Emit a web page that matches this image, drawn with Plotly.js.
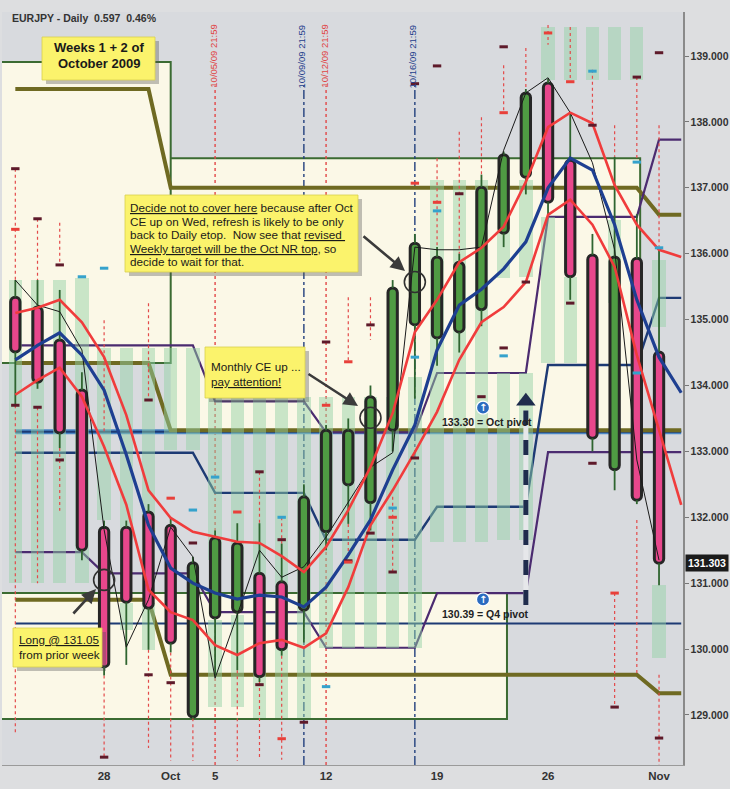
<!DOCTYPE html>
<html>
<head>
<meta charset="utf-8">
<script src="https://cdn.plot.ly/plotly-3.0.1.min.js"></script>
<style>
html,body{margin:0;padding:0;background:#ffffff;}
#chart{width:730px;height:789px;}
</style>
</head>
<body>
<div id="chart"></div>
<script>
// EURJPY daily, 22 Sep – 2 Nov 2009. x = trading-day index (0 = Mon 28 Sep).
const days = [-4,-3,-2,-1,0,1,2,3,4,5,6,7,8,9,10,11,12,13,14,15,16,17,18,19,20,21,22,23,24,25];
const levelDays = [-4,-3,-2,-1,0,1,2,3,4,5,6,7,8,9,10,11,12,13,14,15,16,17,18,19,20,21,22,23,24,25,26];

const tickDays = [0,3,5,10,15,20,25];
const tickText = ['28','Oct','5','12','19','26','Nov'];
const priceTicks = [129,130,131,132,133,134,135,136,137,138,139];

// candles
const openPx  = [135.34,135.19,134.69,133.93,131.85,131.85,132.08,131.88,128.97,130.47,130.56,131.15,131.02,130.59,131.78,132.49,132.22,133.32,134.92,134.72,134.81,135.15,136.31,137.16,138.59,137.42,135.98,132.72,135.93,134.51];
const closePx = [134.51,134.05,133.28,131.50,129.73,130.71,130.62,130.09,131.31,131.69,131.61,129.58,129.99,132.31,133.32,133.32,133.83,135.48,136.16,135.95,135.87,137.01,137.50,138.44,136.78,135.65,133.20,135.95,132.26,131.303];
const highPx  = [135.60,135.60,135.45,134.20,131.95,131.95,132.20,132.00,131.40,131.80,131.91,131.91,131.60,132.50,133.40,133.50,134.00,135.60,136.30,136.10,136.00,137.20,137.55,138.50,138.65,138.14,136.30,137.47,136.60,136.10];
const lowPx   = [133.70,133.95,133.05,131.35,129.60,129.76,129.99,129.95,128.95,129.60,129.68,129.50,129.90,130.10,131.50,131.90,131.80,133.00,133.80,134.30,134.50,134.90,136.10,136.90,136.60,135.30,133.00,132.41,132.20,130.97];

// envelope and average (plotted one session ahead of the last bar)
const bandUpper = [135.10,135.18,135.30,134.96,134.43,133.55,132.41,131.99,131.78,131.70,131.63,131.61,131.41,131.17,131.55,132.11,132.76,133.58,134.81,135.30,135.87,136.09,136.41,137.09,137.92,138.14,137.98,137.04,136.44,136.06,135.95];
const bandMid   = [134.39,134.61,134.80,134.46,133.93,132.95,131.88,131.23,131.00,130.85,130.76,130.82,130.79,130.64,130.94,131.43,131.96,132.72,133.40,134.54,135.22,135.46,135.77,136.18,137.00,137.45,137.27,136.44,135.30,134.43,133.89];
const bandLower = [133.86,134.08,134.27,133.83,133.07,132.19,130.90,130.56,130.44,130.06,129.91,130.09,130.14,130.02,130.24,130.94,131.88,132.41,132.99,133.60,134.39,134.96,135.19,135.57,136.59,136.82,136.44,135.80,134.46,133.32,132.19];
const swingLine = [135.60,135.22,135.12,134.54,131.81,130.03,130.75,131.85,131.40,129.56,130.52,131.50,131.09,131.25,131.70,132.22,132.76,132.98,136.10,136.06,136.06,136.10,137.57,138.44,138.67,138.14,137.38,136.06,132.87,131.35];

// stepped pivot levels
const oliveHigh = [138.50,138.50,138.50,138.50,138.50,138.50,138.50,137.00,137.00,137.00,137.00,137.00,137.00,137.00,137.00,137.00,137.00,137.00,137.00,137.00,137.00,137.00,137.00,137.00,137.00,137.00,137.00,137.00,137.00,136.59,136.59];
const oliveMid  = [134.34,134.34,134.34,134.34,134.34,134.34,134.34,133.32,133.32,133.32,133.32,133.32,133.32,133.32,133.32,133.32,133.32,133.32,133.32,133.32,133.32,133.32,133.32,133.32,133.32,133.32,133.32,133.32,133.32,133.32,133.32];
const oliveLow  = [130.75,130.75,130.75,130.75,130.75,130.75,130.75,129.61,129.61,129.61,129.61,129.61,129.61,129.61,129.61,129.61,129.61,129.61,129.61,129.61,129.61,129.61,129.61,129.61,129.61,129.61,129.61,129.61,129.61,129.33,129.33];
const purpleHigh = [134.61,134.61,134.61,134.61,134.61,134.61,134.61,134.61,134.61,133.76,133.76,133.76,133.76,133.76,133.29,133.29,133.29,133.29,133.29,134.19,134.19,134.19,134.19,134.19,136.56,136.56,136.56,136.56,136.56,137.73,137.73];
const purpleLow  = [131.47,131.47,131.47,131.47,131.15,131.15,131.15,131.15,131.15,130.56,130.56,130.56,130.56,130.56,130.02,130.02,130.02,130.02,130.02,130.85,130.85,130.85,130.85,130.85,132.99,132.99,132.99,132.99,132.99,132.99,132.99];
const navyWeekly = [132.98,132.98,132.98,132.98,132.98,132.98,132.98,132.98,132.98,132.37,132.37,132.37,132.37,132.37,131.66,131.66,131.66,131.66,131.66,132.16,132.16,132.16,132.16,132.16,134.31,134.31,134.31,134.31,134.31,135.33,135.33];
const octPivot = 133.30;
const q4Pivot = 130.39;

// shaded range boxes
const zoneX0  = [-4.6, -4.6, 3];
const zoneX1  = [3, 18.15, 24.15];
const zoneTop = [138.91, 130.85, 137.45];
const zoneBot = [134.34, 128.94, 133.32];

// light value stripes
const stripeDay = [-4,-3,-2,-1,0,1,1,2,2,3,4,5,5,6,6,7,8,9,10,11,12,13,14,15,16,17,18,18,19,19,20,20,21,21,22,23,23,24,25,25];
const stripeHi  = [135.60,135.60,135.60,135.63,134.57,134.57,130.70,134.57,130.70,134.57,134.57,133.83,130.44,133.83,130.52,133.83,133.83,133.83,133.83,133.83,133.83,133.83,134.13,137.12,137.12,137.12,137.12,134.19,137.12,134.19,139.44,136.56,139.44,135.65,139.44,139.44,136.51,139.44,135.90,130.97];
const stripeLo  = [131.00,131.00,131.00,131.00,131.96,131.66,130.29,131.66,129.99,133.02,133.02,131.35,129.12,131.35,129.12,128.95,128.95,128.95,130.02,130.02,130.02,130.02,130.02,131.63,131.63,131.63,135.63,131.66,135.65,131.66,138.64,134.34,138.64,134.34,138.64,138.64,135.25,138.64,134.89,129.87];

// dotted projection runs
const dotDay = [-4,-4,-3,-3,-2,-2,0,0,2,2,3,4,6,7,7,8,8,11,11,12,13,15,16,17,18,19,20,21,22,23,23,24,24,25,25];
const dotHi  = [137.29,133.70,136.53,133.67,136.47,133.05,134.99,129.60,135.25,129.99,129.95,128.95,129.68,132.69,129.50,132.00,129.90,135.34,131.90,135.34,132.31,137.45,137.85,138.07,138.86,139.12,139.47,139.44,138.79,137.95,130.85,138.68,131.96,137.95,129.61];
const dotLo  = [135.60,128.73,135.60,131.00,135.83,132.10,133.30,128.36,133.78,128.50,128.30,128.30,128.30,131.91,128.35,131.60,128.32,134.36,131.32,134.69,131.17,136.10,136.00,137.20,138.14,138.51,139.17,138.61,137.88,137.47,129.12,137.39,129.61,136.09,128.24];

// small level ticks
const darkDay = [-4,-3,-2,-4,-3,-2,2,0,2,3,4,7,8,7,9,11,12,13,10,12,14,15,16,14,18,18,19,21,22,22,17,24,25,23,25];
const darkPx  = [137.29,136.53,135.83,133.70,133.67,132.87,133.78,128.36,129.61,129.49,131.61,132.69,131.66,129.46,128.89,131.34,131.76,131.17,134.66,134.92,138.58,138.85,136.91,132.90,139.14,134.57,135.57,135.25,137.95,132.82,133.83,138.68,139.05,129.12,128.65];
const redDay = [-4,3,6,8,10,11,13,14,15,18,20,21,23,11];
const redPx  = [136.37,132.29,132.08,128.64,133.70,134.36,132.00,137.07,136.78,138.14,139.35,138.61,130.85,131.32];
const cyanDay = [-1,0,4,5,8,10,13,15,14,18,22,24,25,24];
const cyanPx  = [135.65,135.78,132.11,132.61,132.00,129.43,132.14,136.65,134.43,134.45,138.77,137.39,136.09,134.19];

// session markers
const sessionDay = [5, 9, 10, 14];
const sessionLabel = ['10/05/09 21:59', '10/09/09 21:59', '10/12/09 21:59', '10/16/09 21:59'];
const sessionKind = ['daily', 'weekly', 'daily', 'weekly'];

// circled entries and the projected move
const circleDay = [0, 12, 14];
const circlePx = [131.05, 133.51, 135.57];
const longEntry = 131.05;
const moveDay = [19, 19];
const movePx = [130.67, 133.62];
const moveHead = 133.76;

// ---------------------------------------------------------------
const FONT = 'Liberation Sans, Arial, sans-serif';
const ML = 2, MR = 47, MT = 12, MB = 24, W = 730, H = 789;
const PW = W - ML - MR, PH = H - MT - MB;
const px = v => (v - ML) / PW;
const py = v => 1 - (v - MT) / PH;

const C = {
  plot: '#d8dade', cream: '#fbf8e7', boxLine: '#3b6b32', olive: '#6f6a22',
  purple: '#4b2b70', navy: '#1d3a74', steel: '#4a86c6', red: '#f03c3c',
  blue: '#1e3f91', up: '#4f9b43', down: '#e8478c', edge: '#262626',
  stripe: 'rgba(146,210,166,0.48)', note: '#fbf36c'
};

const pathOf = (xs, ys) => 'M' + xs.map((x, i) => x + ',' + ys[i]).join('L');

const shapes = [];
// cream range boxes
zoneX0.forEach((x0, i) => {
  shapes.push({type: 'rect', xref: 'x', yref: 'y', x0: x0, x1: zoneX1[i], y0: zoneBot[i], y1: zoneTop[i],
    fillcolor: C.cream, line: {width: 0}, layer: 'below'});
});
zoneX0.forEach((x0, i) => {
  shapes.push({type: 'path', xref: 'x', yref: 'y', layer: 'below',
    path: pathOf([x0, zoneX1[i], zoneX1[i], x0], [zoneTop[i], zoneTop[i], zoneBot[i], zoneBot[i]]),
    line: {color: C.boxLine, width: 2}});
});
// session verticals
sessionDay.forEach((d, i) => {
  const daily = sessionKind[i] === 'daily';
  shapes.push({type: 'line', xref: 'x', yref: 'y', x0: d, x1: d, y0: 128.24, y1: 138.55, layer: 'below',
    line: {color: daily ? '#e24848' : '#23407e', width: 1.4, dash: daily ? 'dot' : 'dashdot'}});
});
// pivots
const lastLevel = levelDays[levelDays.length - 1];
shapes.push({type: 'line', xref: 'x', yref: 'y', x0: levelDays[0], x1: lastLevel, y0: octPivot, y1: octPivot,
  layer: 'below', line: {color: C.steel, width: 5}});
shapes.push({type: 'line', xref: 'x', yref: 'y', x0: levelDays[0], x1: lastLevel, y0: octPivot, y1: octPivot,
  layer: 'below', line: {color: C.navy, width: 2}});
shapes.push({type: 'line', xref: 'x', yref: 'y', x0: levelDays[0], x1: lastLevel, y0: q4Pivot, y1: q4Pivot,
  layer: 'below', line: {color: C.navy, width: 2}});
// stepped levels
[[oliveHigh, C.olive, 4], [oliveMid, C.olive, 4], [oliveLow, C.olive, 4],
 [purpleHigh, C.purple, 2.2], [purpleLow, C.purple, 2.2], [navyWeekly, C.navy, 2.4]].forEach(([ys, col, w]) => {
  shapes.push({type: 'path', xref: 'x', yref: 'y', layer: 'below', path: pathOf(levelDays, ys),
    line: {color: col, width: w}});
});

// note boxes with drop shadow
function noteBox(x0, y0, x1, y1) {
  shapes.push({type: 'rect', xref: 'paper', yref: 'paper', x0: px(x0 + 4), x1: px(x1 + 4), y0: py(y1 + 4), y1: py(y0 + 4),
    fillcolor: 'rgba(80,80,80,0.35)', line: {width: 0}, layer: 'above'});
  shapes.push({type: 'rect', xref: 'paper', yref: 'paper', x0: px(x0), x1: px(x1), y0: py(y1), y1: py(y0),
    fillcolor: C.note, line: {width: 0.8, color: '#d9cf4e'}, layer: 'above'});
}
noteBox(42, 37, 155, 80);
noteBox(125, 195, 358, 272);
noteBox(205, 347, 305, 398);
noteBox(13, 628, 102, 667);

// pivot icons
function pivotIcon(day, level) {
  shapes.push({type: 'circle', xref: 'x', yref: 'y', xsizemode: 'pixel', ysizemode: 'pixel',
    xanchor: day, yanchor: level, x0: -6.5, x1: 6.5, y0: 17.5, y1: 30.5,
    fillcolor: '#2a6bc0', line: {color: '#ffffff', width: 1.2}, layer: 'above'});
}
pivotIcon(17.07, octPivot);
pivotIcon(17.07, q4Pivot);

// ---------------------------------------------------------------
const annotations = [];
function text(t, xp, yp, o) {
  annotations.push(Object.assign({text: t, xref: 'paper', yref: 'paper', x: px(xp), y: py(yp),
    xanchor: 'left', yanchor: 'middle', showarrow: false,
    font: {family: FONT, size: 11.7, color: '#1a1a1a'}}, o || {}));
}
text('EURJPY - Daily  0.597  0.46%', 10, 18, {font: {family: FONT, size: 10.5, color: '#333', weight: 'bold'}});
text('Weeks 1 + 2 of', 98.5, 48, {xanchor: 'center', font: {family: FONT, size: 13, color: '#1a1a1a', weight: 'bold'}});
text('October 2009', 98.5, 64, {xanchor: 'center', font: {family: FONT, size: 13, color: '#1a1a1a', weight: 'bold'}});

const noteLines = [
  '<u>Decide not to cover here</u> because after Oct',
  'CE up on Wed, refresh is likely to be only',
  'back to Daily etop.  Now see that <u>revised </u>',
  '<u>Weekly target will be the Oct NR top</u>, so',
  'decide to wait for that.'
];
noteLines.forEach((t, i) => text(t, 128, 207.5 + i * 13.6));
text('Monthly CE up ...', 209, 366);
text('<u>pay attention!</u>', 209, 381);
text('<u>Long @ ' + longEntry.toFixed(2) + '</u>', 17, 639);
text('from prior week', 17, 654);

// session labels
sessionDay.forEach((d, i) => {
  const daily = sessionKind[i] === 'daily';
  annotations.push({text: sessionLabel[i], xref: 'x', yref: 'y', x: d, y: 139.50, xanchor: 'center', yanchor: 'top',
    textangle: -90, showarrow: false, xshift: -2,
    font: {family: FONT, size: 9.5, color: daily ? '#e04444' : '#243e8c'}});
});

// pivot captions
annotations.push({text: '<b>' + octPivot.toFixed(2) + ' = Oct pivot</b>', xref: 'paper', yref: 'y', x: px(440), y: octPivot,
  xanchor: 'left', yanchor: 'middle', yshift: 10, showarrow: false, font: {family: FONT, size: 10.5, color: '#222'}});
annotations.push({text: '<b>' + q4Pivot.toFixed(2) + ' = Q4 pivot</b>', xref: 'paper', yref: 'y', x: px(440), y: q4Pivot,
  xanchor: 'left', yanchor: 'middle', yshift: 9, showarrow: false, font: {family: FONT, size: 10.5, color: '#222'}});
[octPivot, q4Pivot].forEach(lv => annotations.push({text: '<b>↑</b>', xref: 'x', yref: 'y', x: 17.07, y: lv,
  yshift: 24, showarrow: false, font: {family: 'DejaVu Sans, sans-serif', size: 10, color: '#ffffff'}}));

// last price tag
const lastClose = closePx[closePx.length - 1];
annotations.push({text: '<b>' + lastClose.toFixed(3) + '</b>', xref: 'paper', yref: 'y', x: 1, y: lastClose,
  xanchor: 'left', yanchor: 'middle', showarrow: false, bgcolor: '#1b1b1b', borderpad: 2, xshift: 2,
  font: {family: FONT, size: 10.5, color: '#ffffff'}});

// pointer arrows from the notes
function pointer(hx, hy, tx, ty) {
  annotations.push({text: '', xref: 'paper', yref: 'paper', x: px(hx), y: py(hy), ax: tx - hx, ay: ty - hy,
    showarrow: true, arrowhead: 2, arrowsize: 1.1, arrowwidth: 2.6, arrowcolor: '#3b3b3b', standoff: 0});
}
pointer(405, 271, 362, 235);
pointer(358, 406, 307, 373);
pointer(96, 589, 72, 615);

// ---------------------------------------------------------------
const traces = [];
traces.push({type: 'bar', x: stripeDay, base: stripeLo, y: stripeHi.map((h, i) => h - stripeLo[i]), width: 0.6,
  marker: {color: C.stripe, line: {width: 0}}});

const upIdx = days.map((d, i) => i).filter(i => closePx[i] >= openPx[i]);
const dnIdx = days.map((d, i) => i).filter(i => closePx[i] < openPx[i]);
traces.push({type: 'bar', x: upIdx.map(i => days[i]), base: upIdx.map(i => openPx[i]),
  y: upIdx.map(i => closePx[i] - openPx[i]), width: 0.42,
  marker: {color: C.up, line: {color: C.edge, width: 3}, cornerradius: 5}});
traces.push({type: 'bar', x: dnIdx.map(i => days[i]), base: dnIdx.map(i => closePx[i]),
  y: dnIdx.map(i => openPx[i] - closePx[i]), width: 0.42,
  marker: {color: C.down, line: {color: C.edge, width: 3}, cornerradius: 5}});

// dotted projection runs
const dX = [], dY = [];
dotDay.forEach((d, i) => { dX.push(d, d, null); dY.push(dotHi[i], dotLo[i], null); });
traces.push({type: 'scatter', mode: 'lines', x: dX, y: dY, line: {color: '#e34a4a', width: 1.2, dash: 'dot'}});

// wicks outside the bodies
const wX = [], wY = [];
days.forEach((d, i) => {
  const top = Math.max(openPx[i], closePx[i]), bot = Math.min(openPx[i], closePx[i]);
  if (highPx[i] > top) { wX.push(d, d, null); wY.push(highPx[i], top, null); }
  if (lowPx[i] < bot) { wX.push(d, d, null); wY.push(bot, lowPx[i], null); }
});
traces.push({type: 'scatter', mode: 'lines', x: wX, y: wY, line: {color: '#2f6530', width: 1.8}});

traces.push({type: 'scatter', mode: 'lines', x: days, y: swingLine, line: {color: '#1a1a1a', width: 1}});
traces.push({type: 'scatter', mode: 'lines', x: levelDays, y: bandUpper, line: {color: C.red, width: 2.6}});
traces.push({type: 'scatter', mode: 'lines', x: levelDays, y: bandLower, line: {color: C.red, width: 2.6}});
traces.push({type: 'scatter', mode: 'lines', x: levelDays, y: bandMid, line: {color: C.blue, width: 3.2}});

[[darkDay, darkPx, '#5e1a2a'], [redDay, redPx, '#e8403a'], [cyanDay, cyanPx, '#35a2cc']].forEach(([xs, ys, col]) => {
  traces.push({type: 'scatter', mode: 'markers', x: xs, y: ys,
    marker: {symbol: 'line-ew', size: 6, line: {color: col, width: 3}}});
});

traces.push({type: 'scatter', mode: 'markers', x: circleDay, y: circlePx,
  marker: {symbol: 'circle-open', size: 21, color: '#303030', line: {color: '#303030', width: 1.6}}});

// projected move arrow
traces.push({type: 'scatter', mode: 'lines', x: moveDay, y: movePx, line: {color: '#e6e7ea', width: 5}});
traces.push({type: 'scatter', mode: 'lines', x: moveDay, y: movePx, line: {color: '#1f2c4d', width: 5, dash: 'dash'}});
traces.push({type: 'scatter', mode: 'markers', x: [moveDay[0]], y: [moveHead],
  marker: {symbol: 'triangle-up', size: 17, color: '#1f2c4d'}});

const layout = {
  width: W, height: H,
  margin: {l: ML, r: MR, t: MT, b: MB, pad: 0},
  paper_bgcolor: '#dddee0', plot_bgcolor: C.plot,
  showlegend: false, hovermode: false, barmode: 'overlay', bargap: 0,
  xaxis: {range: [-4.6, 26.08], tickvals: tickDays, ticktext: tickText, showgrid: false, zeroline: false,
    showline: true, linecolor: '#9a9a9a', linewidth: 1, ticks: '', fixedrange: true,
    tickfont: {family: FONT, size: 11.5, color: '#333', weight: 'bold'}},
  yaxis: {side: 'right', range: [128.241, 139.668], tickvals: priceTicks, ticktext: priceTicks.map(v => v.toFixed(3)),
    showgrid: false, zeroline: false, showline: true, linecolor: '#8a8a8a', linewidth: 1.5,
    ticks: 'outside', ticklen: 4, tickcolor: '#777', fixedrange: true,
    tickfont: {family: FONT, size: 10.5, color: '#333', weight: 'bold'}},
  shapes: shapes,
  annotations: annotations
};

Plotly.newPlot('chart', traces, layout, {displayModeBar: false, staticPlot: true});
</script>
</body>
</html>
